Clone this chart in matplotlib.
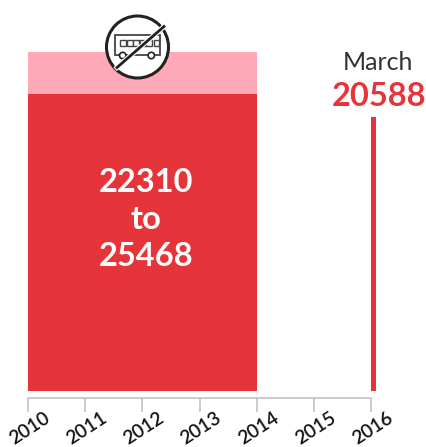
import matplotlib
matplotlib.use("Agg")
import matplotlib.pyplot as plt
from matplotlib.patches import Circle, Rectangle
from matplotlib.lines import Line2D
from matplotlib.transforms import ScaledTranslation

W, H = 427, 447
RED = "#E5353B"
PINK = "#FFA9B8"

years = [2010, 2011, 2012, 2013, 2014, 2015, 2016]
range_start = 2010
range_end = 2014
range_low = 22310
range_high = 25468
march_x = 2016
march_width = 1 / 12
march_value = 20588

plt.rcParams["font.family"] = ["Lato", "Carlito", "Open Sans", "DejaVu Sans"]
fig = plt.figure(figsize=(W / 100, H / 100), dpi=100)

x0, x1 = 28.0, 371.4
bottom_px, top_px = 391.0, 52.0
ax = fig.add_axes([x0 / W, 1 - bottom_px / H, (x1 - x0) / W, (bottom_px - top_px) / H])
ax.set_xlim(2010, 2016)
ax.set_ylim(0, range_high)
ax.patch.set_alpha(0)

ax.bar(range_start, range_high, width=range_end - range_start, align="edge", color=PINK, lw=0)
ax.bar(range_start, range_low, width=range_end - range_start, align="edge", color=RED, lw=0)
ax.bar(march_x, march_value, width=march_width, align="edge", color=RED, lw=0, clip_on=False)

for s in ["top", "left", "right"]:
    ax.spines[s].set_visible(False)
ax.spines["bottom"].set_position(("outward", 5))
ax.spines["bottom"].set_color("#BDBDBD")
ax.spines["bottom"].set_linewidth(1.1)
ax.set_yticks([])
ax.set_xticks(years)
ax.set_xticklabels([str(y) for y in years], rotation=33, ha="center", va="top",
                   fontsize=13.8, fontweight="semibold", color="#111111", rotation_mode="anchor")
ax.tick_params(axis="x", length=10, width=1.1, color="#BDBDBD", pad=6.5)
shift = ScaledTranslation(-3 / 100, 0, fig.dpi_scale_trans)
for lab in ax.get_xticklabels():
    lab.set_transform(lab.get_transform() + shift)

# overlay in pixel coordinates for annotations and the icon
ov = fig.add_axes([0, 0, 1, 1])
ov.set_xlim(0, W)
ov.set_ylim(H, 0)
ov.axis("off")
ov.patch.set_alpha(0)
ov.text(146, 219.5, f"{range_low}\nto\n{range_high}", color="white",
        fontsize=23.5, fontweight="bold", ha="center", va="center", linespacing=1.35)
ov.text(378, 62, "March", color="#333333", fontsize=18, ha="center", va="center")
ov.text(379, 97, str(march_value), color=RED, fontsize=23.5, fontweight="bold", ha="center", va="center")

ic = "#222222"
ov.add_patch(Circle((137.5, 47), 31, fc="white", ec=ic, lw=2.2))
ov.add_patch(Rectangle((115, 35), 45.5, 20, fc="white", ec="#444444", lw=1.3))
for wx in [121, 127.5, 134, 140.5, 147]:
    ov.add_patch(Rectangle((wx - 0.5, 39.5), 6, 6, fc="white", ec="#444444", lw=1))
ov.add_patch(Rectangle((154.5, 39.5), 5, 6, fc="white", ec="#444444", lw=1))
for cx in (122.7, 151.3):
    ov.add_patch(Circle((cx, 55.5), 3.2, fc="white", ec=ic, lw=1.2))
ov.add_line(Line2D([117, 164], [67.5, 26.5], color="white", lw=3.6))
ov.add_line(Line2D([117, 164], [67.5, 26.5], color=ic, lw=2.0))

fig.savefig("out.png", dpi=100)
